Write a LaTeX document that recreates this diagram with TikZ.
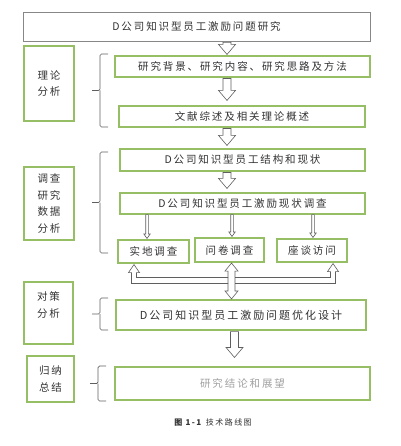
\documentclass[tikz,border=0pt]{standalone}
\usepackage{fontspec}
\setmainfont{Noto Sans CJK SC}[LetterSpace=18]
\usetikzlibrary{calc}
\definecolor{boxgreen}{RGB}{150,190,100}
\definecolor{boxgray}{RGB}{135,135,135}
\definecolor{linegray}{RGB}{95,95,95}
\definecolor{textgray}{RGB}{50,50,50}
\definecolor{fadegray}{RGB}{160,160,160}

% hollow block arrow from the bottom of #1 to the top of #2, at x=#3, gap #4 at the tip
\newcommand{\bigarrow}[4]{%
	\draw[hollow] let \p1=(#1.south), \p2=(#2.north) in
		(#3pt-4pt,\y1-1pt) -- (#3pt-4pt,\y2+#4pt+10pt) -- (#3pt-8.5pt,\y2+#4pt+10pt)
		-- (#3pt,\y2+#4pt) -- (#3pt+8.5pt,\y2+#4pt+10pt) -- (#3pt+4pt,\y2+#4pt+10pt)
		-- (#3pt+4pt,\y1-1pt) -- cycle;}
% narrow hollow arrow
\newcommand{\thinarrow}[3]{%
	\draw[hollow] let \p1=(#1.south), \p2=(#2.north) in
		(#3pt-1.3pt,\y1) -- (#3pt-1.3pt,\y2+5.5pt) -- (#3pt-3.2pt,\y2+5.5pt)
		-- (#3pt,\y2+1pt) -- (#3pt+3.2pt,\y2+5.5pt) -- (#3pt+1.3pt,\y2+5.5pt)
		-- (#3pt+1.3pt,\y1) -- cycle;}
% brace on the left of a group of boxes
\newcommand{\leftbrace}[3]{%
	\draw[bracel] (#1+8,#2) -- (#1,#2) -- (#1,{(#2+#3)/2}) -- (#1-8,{(#2+#3)/2})
		(#1,{(#2+#3)/2}) -- (#1,#3) -- (#1+8,#3);}

\begin{document}
\begin{tikzpicture}[x=1pt,y=-1pt,
		greenbox/.style={draw=boxgreen,line width=1.1pt,inner sep=0pt,text=textgray,
			font=\fontsize{10.5}{12}\selectfont},
		sidebox/.style={greenbox,align=center,font=\fontsize{10.5}{16.5}\selectfont},
		hollow/.style={draw=linegray,line width=0.6pt,fill=white},
		bracel/.style={draw=linegray,line width=0.7pt,rounded corners=1.5pt}]
	\useasboundingbox (0,0) rectangle (400,446);
	% main column
	\node[draw=boxgray,line width=0.9pt,inner sep=0pt,minimum width=347,minimum height=29,
		text=textgray,font=\fontsize{10.5}{12}\selectfont] (topic) at (196.5,26.5) {D公司知识型员工激励问题研究};
	\node[greenbox,minimum width=255,minimum height=21] (backg) at (242.5,66.5) {研究背景、研究内容、研究思路及方法};
	\node[greenbox,minimum width=246,minimum height=21] (review) at (242,116.5) {文献综述及相关理论概述};
	\node[greenbox,minimum width=245,minimum height=22] (status) at (242.5,160) {D公司知识型员工结构和现状};
	\node[greenbox,minimum width=245,minimum height=21] (survey) at (242.5,203.5) {D公司知识型员工激励现状调查};
	\node[greenbox,minimum width=71,minimum height=23] (field) at (153.5,251.5) {实地调查};
	\node[greenbox,minimum width=69,minimum height=24] (quest) at (229.5,250) {问卷调查};
	\node[greenbox,minimum width=70,minimum height=23] (talk) at (312,250.5) {座谈访问};
	\node[greenbox,minimum width=250,minimum height=30,font=\fontsize{11}{12}\selectfont] (design) at (241,315) {D公司知识型员工激励问题优化设计};
	\node[greenbox,minimum width=255,minimum height=33,text=fadegray] (concl) at (242.5,383.5) {研究结论和展望};
	% left column
	\node[sidebox,minimum width=50,minimum height=75] (theory) at (49,83.5) {理论\\分析};
	\node[sidebox,minimum width=50,minimum height=73] (data) at (49,203.5) {调查\\研究\\数据\\分析};
	\node[sidebox,minimum width=49,minimum height=62] (policy) at (48.5,313) {对策\\分析\\ \mbox{}};
	\node[sidebox,minimum width=47,minimum height=46] (summ) at (50.5,379) {归纳\\总结};
	% braces
	\leftbrace{100}{54}{127}
	\leftbrace{100}{152}{253}
	\leftbrace{100}{298}{330}
	\leftbrace{98}{366}{401}
	% arrows down the column
	\bigarrow{topic}{backg}{227}{1}
	\bigarrow{backg}{review}{227}{5}
	\bigarrow{review}{status}{227}{3}
	\bigarrow{status}{survey}{227}{4}
	\bigarrow{design}{concl}{234.5}{9}
	\thinarrow{survey}{field}{147}
	\thinarrow{survey}{quest}{232}
	\thinarrow{survey}{talk}{313}
	% feedback from the three surveys
	\draw[hollow] let \p1=(quest.south), \p2=(design.north) in
		(228pt,\y1-8.5pt) -- (225pt,\y1-8.5pt) -- (231.5pt,\y1-0.5pt) -- (238pt,\y1-8.5pt)
		-- (235pt,\y1-8.5pt) -- (235pt,\y2+8.5pt) -- (238pt,\y2+8.5pt) -- (231.5pt,\y2+0.5pt)
		-- (225pt,\y2+8.5pt) -- (228pt,\y2+8.5pt) -- cycle;
	\draw[hollow,fill=none] let \p1=(field.south), \p2=(design.north) in
		(228pt,\y2+22pt) -- (136.5pt,\y2+22pt) -- (136.5pt,\y1-9pt) -- (139.5pt,\y1-9pt)
		-- (134pt,\y1-1pt) -- (128.5pt,\y1-9pt) -- (131.5pt,\y1-9pt) -- (131.5pt,\y2+16pt)
		-- (228pt,\y2+16pt);
	\draw[hollow,fill=none] let \p1=(talk.south), \p2=(design.north) in
		(235pt,\y2+22pt) -- (330.5pt,\y2+22pt) -- (330.5pt,\y1-9pt) -- (327.5pt,\y1-9pt)
		-- (333pt,\y1-1pt) -- (338.5pt,\y1-9pt) -- (335.5pt,\y1-9pt) -- (335.5pt,\y2+16pt)
		-- (235pt,\y2+16pt);
	% caption
	\node[text=textgray,font=\fontsize{8}{10}\selectfont] (cap) at (213,423) {\textbf{图 1-1} 技术路线图};
\end{tikzpicture}
\end{document}
